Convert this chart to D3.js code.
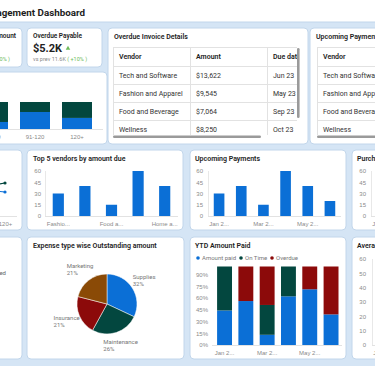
<!DOCTYPE html>
<html>
<head>
<meta charset="utf-8">
<script src="https://cdn.jsdelivr.net/npm/d3@7"></script>
<style>
  body { margin: 0; background: #d5e5f5; overflow: hidden; }
  svg { display: block; font-family: Roboto, "Open Sans", sans-serif; }
</style>
</head>
<body>
<svg></svg>
<script>
const width = 375;
const height = 366;

// data
const agingBuckets = ["61-90", "91-120", "120+"];
const agingPaid = [26, 63, 41];
const agingDue = [74, 37, 59];

const trendBuckets = ["0-30", "31-60", "61-90", "91-120", "120+"];
const trendOnTime = [30, 34, 40, 38, 44];
const trendOverdue = [20, 26, 30, 36, 32];

const tableCols = ["Vendor", "Amount", "Due date"];
const invoiceVendors = ["Tech and Software", "Fashion and Apparel", "Food and Beverage", "Wellness"];
const invoiceAmounts = ["$13,622", "$9,545", "$7,064", "$8,250"];
const invoiceDue = ["Jun 23", "May 23", "Sep 23", "Oct 23"];
const upcomingVendors = ["Tech and Software", "Fashion and Apparel", "Food and Beverage", "Wellness"];

const topVendors = ["Fashion and Apparel", "Tech and Software", "Food and Beverage", "Wellness", "Home and Garden"];
const topAmounts = [30, 40, 15, 60, 40];

const months = ["Jan 23", "Feb 23", "Mar 23", "Apr 23", "May 23", "Jun 23"];
const upcomingAmounts = [30, 40, 15, 60, 40, 20];
const purchaseAmounts = [40, 25, 50, 35, 20, 45];
const averageDays = [30, 45, 20, 50, 35, 25];

const expenseTypes = ["Supplies", "Maintenance", "Insurance", "Marketing"];
const expenseShares = [32, 26, 21, 21];

const ytdKeys = ["Amount paid", "On Time", "Overdue"];
const ytdPaid = [44, 56, 13, 62, 71, 39];
const ytdOnTime = [56, 0, 38, 38, 0, 0];
const ytdOverdue = [0, 44, 49, 0, 29, 61];

const blue = "#0b6fd6";
const teal = "#03473f";
const red = "#8c0a0a";
const brown = "#8a4a06";
const tickGray = "#8a8a8a";

const svg = d3.select("svg")
  .attr("width", width)
  .attr("height", height);

svg.append("rect")
  .attr("width", width)
  .attr("height", height)
  .attr("fill", "#d5e5f5");

function panel(x, y, w, h) {
  svg.append("rect")
    .attr("x", x).attr("y", y)
    .attr("width", w).attr("height", h)
    .attr("rx", 4)
    .attr("fill", "#fff")
    .attr("stroke", "#c2d6eb")
    .attr("stroke-width", 1);
}

function title(x, y, t) {
  svg.append("text")
    .attr("x", x).attr("y", y)
    .attr("fill", "#222")
    .style("font-size", "7px")
    .style("font-weight", 600)
    .text(t);
}

const trunc = (s, n) => s.length > n ? s.slice(0, n) + "..." : s;

// header
svg.append("rect")
  .attr("x", -5).attr("y", -5)
  .attr("width", width + 10).attr("height", 27)
  .attr("fill", "#fff")
  .attr("stroke", "#c2d6eb");

svg.append("text")
  .attr("x", 85).attr("y", 16)
  .attr("text-anchor", "end")
  .attr("fill", "#1d1d1d")
  .style("font-size", "9.8px")
  .style("font-weight", 700)
  .text("Accounts Payable Management Dashboard");

// KPI cards
panel(-53, 28, 75, 39);
svg.append("text")
  .attr("x", 16).attr("y", 38)
  .attr("text-anchor", "end")
  .attr("fill", "#222")
  .style("font-size", "6.5px")
  .style("font-weight", 600)
  .text("Outstanding Amount");
const kpiA = svg.append("text")
  .attr("x", 10).attr("y", 61)
  .attr("text-anchor", "end")
  .style("font-size", "5.5px");
kpiA.append("tspan").attr("fill", tickGray).text("vs prev 14.2K ");
kpiA.append("tspan").attr("fill", "#6dbb5a").text("( +20% )");

panel(27, 28, 75, 39);
svg.append("text")
  .attr("x", 33).attr("y", 38)
  .attr("fill", "#222")
  .style("font-size", "6.5px")
  .style("font-weight", 600)
  .text("Overdue Payable");
svg.append("text")
  .attr("x", 33).attr("y", 52)
  .attr("fill", "#222")
  .style("font-size", "11px")
  .style("font-weight", 700)
  .text("$5.2K");
svg.append("path")
  .attr("d", d3.symbol(d3.symbolTriangle, 9)())
  .attr("transform", "translate(68,48.5)")
  .attr("fill", "#6dbb5a");
const kpiB = svg.append("text")
  .attr("x", 33).attr("y", 61)
  .style("font-size", "5.5px");
kpiB.append("tspan").attr("fill", tickGray).text("vs prev 11.6K ");
kpiB.append("tspan").attr("fill", "#6dbb5a").text("( +10% )");

// aging stacked bars
panel(-100, 72, 207, 72);
{
  const x = d3.scaleBand().domain(agingBuckets).range([-28, 98]).paddingInner(0.286).paddingOuter(0.143);
  const y = d3.scaleLinear().domain([0, 100]).range([129, 102]);
  svg.append("line")
    .attr("x1", -10).attr("x2", 103)
    .attr("y1", 129.5).attr("y2", 129.5)
    .attr("stroke", "#e2e2e2");
  agingBuckets.forEach((b, i) => {
    svg.append("rect")
      .attr("x", x(b)).attr("width", x.bandwidth())
      .attr("y", y(agingPaid[i])).attr("height", y(0) - y(agingPaid[i]))
      .attr("fill", blue);
    svg.append("rect")
      .attr("x", x(b)).attr("width", x.bandwidth())
      .attr("y", y(agingPaid[i] + agingDue[i])).attr("height", y(agingPaid[i]) - y(agingPaid[i] + agingDue[i]))
      .attr("fill", teal);
  });
  svg.append("g")
    .attr("transform", "translate(0,129)")
    .call(d3.axisBottom(x).tickSize(0).tickPadding(6))
    .call(a => a.select(".domain").remove())
    .call(a => a.selectAll("text").attr("fill", tickGray).attr("font-family", null).style("font-size", "6px"));
}

// tables
function table(x0, y0, clipR, cols, rows, id) {
  const colW = 77;
  const rowY = [0, 19, 37, 55, 73, 91];
  svg.append("clipPath").attr("id", id)
    .append("rect").attr("x", x0).attr("y", y0).attr("width", clipR - x0).attr("height", 88);
  const g = svg.append("g").attr("clip-path", `url(#${id})`);
  g.append("rect")
    .attr("x", x0 + 0.5).attr("y", y0 + 0.5)
    .attr("width", colW * cols.length).attr("height", 95)
    .attr("fill", "#fff").attr("stroke", "#e2e2e2");
  rowY.slice(1, 5).forEach(r => {
    g.append("line")
      .attr("x1", x0).attr("x2", x0 + colW * cols.length)
      .attr("y1", y0 + r + 0.5).attr("y2", y0 + r + 0.5)
      .attr("stroke", "#e2e2e2");
  });
  cols.forEach((c, j) => {
    if (j > 0) {
      g.append("line")
        .attr("x1", x0 + j * colW + 0.5).attr("x2", x0 + j * colW + 0.5)
        .attr("y1", y0).attr("y2", y0 + 95)
        .attr("stroke", "#e2e2e2");
    }
    g.append("text")
      .attr("x", x0 + j * colW + 6).attr("y", y0 + 11.5)
      .attr("fill", "#222")
      .style("font-size", "7px")
      .style("font-weight", 600)
      .text(c);
    rows[j].forEach((v, i) => {
      g.append("text")
        .attr("x", x0 + j * colW + 6).attr("y", y0 + rowY[i + 1] + 11.5)
        .attr("fill", "#333")
        .style("font-size", "7px")
        .text(v);
    });
  });
}

panel(108, 28, 200, 116);
title(114, 39, "Overdue Invoice Details");
table(113, 47, 297, tableCols, [invoiceVendors, invoiceAmounts, invoiceDue], "clipA");
svg.append("rect").attr("x", 297).attr("y", 48).attr("width", 2.6).attr("height", 70).attr("rx", 1.3).attr("fill", "#9a9a9a");
svg.append("rect").attr("x", 113).attr("y", 135.5).attr("width", 148).attr("height", 2.4).attr("rx", 1.2).attr("fill", "#9a9a9a");

panel(310, 28, 120, 116);
title(316, 39, "Upcoming Payments");
table(317, 47, 380, tableCols, [upcomingVendors, invoiceAmounts, invoiceDue], "clipB");
svg.append("rect").attr("x", 317).attr("y", 135.5).attr("width", 70).attr("height", 2.4).attr("rx", 1.2).attr("fill", "#9a9a9a");

// simple bar chart
function bars(cats, vals, o) {
  const g = svg.append("g");
  const y = d3.scaleLinear().domain([0, o.max]).range([o.base, o.top]);
  const x = d3.scaleBand().domain(cats).range([o.left, o.right]).paddingInner(o.pad).paddingOuter(o.pad / 2);
  g.append("g")
    .attr("transform", `translate(${o.labelR},0)`)
    .call(d3.axisLeft(y).tickValues(o.ticks).tickSize(0).tickPadding(0).tickFormat(o.fmt || (d => d)))
    .call(a => a.select(".domain").remove())
    .call(a => a.selectAll("text").attr("fill", tickGray).attr("font-family", null).style("font-size", "6px"));
  g.append("line")
    .attr("x1", o.left + 0.5).attr("x2", o.left + 0.5)
    .attr("y1", o.top).attr("y2", o.base)
    .attr("stroke", "#e8e8e8");
  g.append("line")
    .attr("x1", o.left).attr("x2", o.right)
    .attr("y1", o.base + 0.5).attr("y2", o.base + 0.5)
    .attr("stroke", "#e2e2e2");
  g.selectAll("rect.bar")
    .data(vals)
    .join("rect")
    .attr("class", "bar")
    .attr("x", (d, i) => x(cats[i]))
    .attr("width", x.bandwidth())
    .attr("y", d => y(d))
    .attr("height", d => y(0) - y(d))
    .attr("fill", blue);
  g.append("g")
    .attr("transform", `translate(0,${o.base})`)
    .call(d3.axisBottom(x).tickSize(0).tickPadding(6).tickFormat((d, i) => i % 2 ? "" : trunc(d, o.keep)))
    .call(a => a.select(".domain").remove())
    .call(a => a.selectAll("text").attr("fill", tickGray).attr("font-family", null).style("font-size", "6px"));
  return { x, y };
}

// row 2
panel(-130, 150, 152, 80);
{
  const x = d3.scalePoint().domain(trendBuckets).range([-111, 5]);
  const y = d3.scaleLinear().domain([0, 60]).range([216, 171]);
  svg.append("line").attr("x1", -10).attr("x2", 17).attr("y1", 216.5).attr("y2", 216.5).attr("stroke", "#e2e2e2");
  [[trendOnTime, teal], [trendOverdue, blue]].forEach(([vals, c]) => {
    svg.append("path")
      .datum(vals)
      .attr("fill", "none")
      .attr("stroke", c)
      .attr("stroke-width", 1.2)
      .attr("d", d3.line().x((d, i) => x(trendBuckets[i])).y(d => y(d)));
    svg.selectAll(null)
      .data(vals)
      .join("circle")
      .attr("cx", (d, i) => x(trendBuckets[i]))
      .attr("cy", d => y(d))
      .attr("r", 1.6)
      .attr("fill", c);
  });
  svg.append("g")
    .attr("transform", "translate(0,216)")
    .call(d3.axisBottom(x).tickSize(0).tickPadding(6))
    .call(a => a.select(".domain").remove())
    .call(a => a.selectAll("text").attr("fill", tickGray).attr("font-family", null).style("font-size", "6px"));
}

panel(27, 150, 156, 80);
title(33, 161, "Top 5 vendors by amount due");
bars(topVendors, topAmounts, { left: 45, right: 178, top: 171, base: 216, labelR: 41, max: 60, ticks: [0, 15, 30, 45, 60], pad: 0.58, keep: 6 });

panel(190, 150, 156, 80);
title(195, 161, "Upcoming Payments");
bars(months, upcomingAmounts, { left: 208, right: 341, top: 171, base: 216, labelR: 203, max: 60, ticks: [0, 15, 30, 45, 60], pad: 0.52, keep: 5 });

panel(352, 150, 156, 80);
title(357, 161, "Purchase Trend");
bars(months, purchaseAmounts, { left: 371, right: 504, top: 171, base: 216, labelR: 366, max: 60, ticks: [0, 15, 30, 45, 60], pad: 0.52, keep: 5 });

// row 3
panel(-130, 237, 152, 122);
svg.append("text")
  .attr("x", 6).attr("y", 275)
  .attr("text-anchor", "end")
  .attr("fill", "#666")
  .style("font-size", "6px")
  .text("Disputed");

panel(27, 237, 157, 122);
title(33, 248, "Expense type wise Outstanding amount");
{
  const cx = 107, cy = 304, r = 30;
  const pie = d3.pie().sort(null).value(d => d)(expenseShares);
  const arc = d3.arc().innerRadius(0).outerRadius(r);
  const labelArc = d3.arc().innerRadius(44).outerRadius(44);
  const colors = [blue, teal, red, brown];
  const g = svg.append("g").attr("transform", `translate(${cx},${cy})`);
  g.selectAll("path")
    .data(pie)
    .join("path")
    .attr("d", arc)
    .attr("fill", (d, i) => colors[i])
    .attr("stroke", "#fff")
    .attr("stroke-width", 0.5);
  pie.forEach((d, i) => {
    const [lx, ly] = labelArc.centroid(d);
    const t = g.append("text")
      .attr("y", ly - 1.5)
      .attr("fill", "#777")
      .style("font-size", "6px");
    t.append("tspan").text(expenseTypes[i]);
    t.append("tspan").attr("dy", 7).text(expenseShares[i] + "%");
    const w = t.select("tspan").node().getComputedTextLength();
    t.attr("x", lx - w / 2);
    t.selectAll("tspan").attr("x", lx - w / 2);
  });
}

panel(190, 237, 156, 122);
title(195, 248, "YTD Amount Paid");
{
  const legendX = [198, 241, 272];
  const legendC = [blue, teal, red];
  ytdKeys.forEach((k, i) => {
    svg.append("circle").attr("cx", legendX[i]).attr("cy", 258).attr("r", 1.8).attr("fill", legendC[i]);
    svg.append("text")
      .attr("x", legendX[i] + 4).attr("y", 260.2)
      .attr("fill", "#777")
      .style("font-size", "6px")
      .text(k);
  });
  const rows = months.map((m, i) => ({ month: m, "Amount paid": ytdPaid[i], "On Time": ytdOnTime[i], "Overdue": ytdOverdue[i] }));
  const series = d3.stack().keys(ytdKeys)(rows);
  const x = d3.scaleBand().domain(months).range([213.9, 341.7]).paddingInner(0.3).paddingOuter(0.15);
  const y = d3.scaleLinear().domain([0, 100]).range([345, 266.5]);
  svg.append("g")
    .attr("transform", "translate(208,0)")
    .call(d3.axisLeft(y).tickValues([0, 15, 30, 45, 60, 75, 90]).tickSize(0).tickPadding(0).tickFormat(d => d + "%"))
    .call(a => a.select(".domain").remove())
    .call(a => a.selectAll("text").attr("fill", tickGray).attr("font-family", null).style("font-size", "6px"));
  svg.append("line").attr("x1", 212).attr("x2", 342).attr("y1", 345.5).attr("y2", 345.5).attr("stroke", "#e2e2e2");
  svg.append("g")
    .selectAll("g")
    .data(series)
    .join("g")
    .attr("fill", (d, i) => legendC[i])
    .selectAll("rect")
    .data(d => d)
    .join("rect")
    .attr("x", d => x(d.data.month))
    .attr("width", x.bandwidth())
    .attr("y", d => y(d[1]))
    .attr("height", d => y(d[0]) - y(d[1]));
  svg.append("g")
    .attr("transform", "translate(0,345)")
    .call(d3.axisBottom(x).tickSize(0).tickPadding(6).tickFormat((d, i) => i % 2 ? "" : trunc(d, 5)))
    .call(a => a.select(".domain").remove())
    .call(a => a.selectAll("text").attr("fill", tickGray).attr("font-family", null).style("font-size", "6px"));
}

panel(352, 237, 156, 122);
title(357, 248, "Average Days to Pay");
bars(months, averageDays, { left: 372, right: 505, top: 259, base: 345, labelR: 366, max: 60, ticks: [0, 10, 20, 30, 40, 50, 60], pad: 0.52, keep: 5 });
</script>
</body>
</html>
